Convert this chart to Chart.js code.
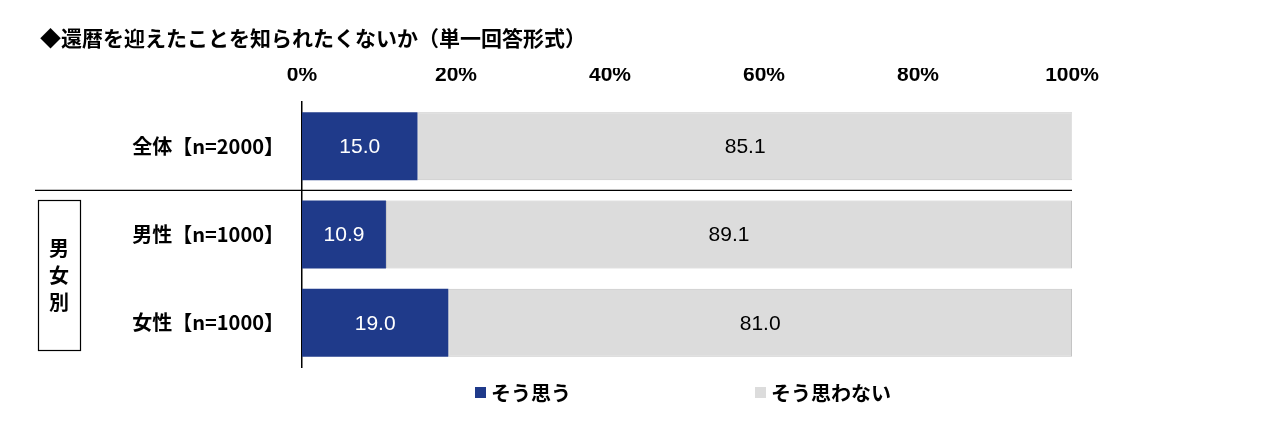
<!DOCTYPE html>
<html><head><meta charset="utf-8">
<script src="https://cdn.jsdelivr.net/npm/chart.js@4"></script>
<style>html,body{margin:0;padding:0;background:#fff}canvas{display:block}</style>
</head><body>
<div style="width:1266px;height:425px"><canvas id="c"></canvas></div>
<script>
const categories = ['全体【n=2000】','男性【n=1000】','女性【n=1000】'];
const seriesNames = ['そう思う','そう思わない'];
const yesValues = [15.0, 10.9, 19.0];
const noValues = [85.1, 89.1, 81.0];
const colors = ['#1F3A8A','#DCDCDC'];
const FONT = '"Noto Sans CJK JP", "Noto Sans", sans-serif';
const NUMFONT = '"Liberation Sans", Arial, sans-serif';

const deco = {
  id:'deco',
  afterDraw(chart){
    const ctx = chart.ctx, y = chart.scales.y, a = chart.chartArea;
    ctx.save();
    ctx.fillStyle='#000';
    ctx.font='bold 21px '+FONT;
    ctx.textBaseline='middle';
    ctx.textAlign='left';
    ctx.fillText('◆還暦を迎えたことを知られたくないか（単一回答形式）', 40, 38);
    ctx.font='bold 20px '+FONT;
    ctx.textAlign='right';
    categories.forEach((c,i)=>ctx.fillText(c, 284, y.getPixelForValue(i)));
    const sep = (y.getPixelForValue(0)+y.getPixelForValue(1))/2;
    ctx.strokeStyle='#000'; ctx.lineWidth=1.2;
    ctx.beginPath(); ctx.moveTo(35,sep); ctx.lineTo(a.right,sep); ctx.stroke();
    ctx.strokeRect(38.5,200.5,42,150);
    ctx.textAlign='center';
    ['男','女','別'].forEach((t,i)=>ctx.fillText(t,59,248+i*27));
    ctx.font='21px '+NUMFONT;
    chart.data.datasets.forEach((ds,di)=>{
      chart.getDatasetMeta(di).data.forEach((bar,i)=>{
        ctx.fillStyle = di===0 ? '#fff' : '#000';
        ctx.fillText(ds.data[i].toFixed(1), (bar.x+bar.base)/2, bar.y+1);
      });
    });
    ctx.font='bold 20px '+FONT;
    ctx.textAlign='left';
    const lx=[475,755];
    seriesNames.forEach((n,i)=>{
      ctx.fillStyle=colors[i]; ctx.fillRect(lx[i],387,11,11);
      ctx.fillStyle='#000'; ctx.fillText(n,lx[i]+16,393);
    });
    ctx.restore();
  }
};

new Chart(document.getElementById('c'),{
  type:'bar',
  data:{labels:categories,datasets:[
    {label:seriesNames[0],data:yesValues,backgroundColor:colors[0],categoryPercentage:1,barPercentage:0.77},
    {label:seriesNames[1],data:noValues,backgroundColor:colors[1],borderColor:'#c4c4c4',borderWidth:1,borderSkipped:false,categoryPercentage:1,barPercentage:0.77}
  ]},
  options:{
    indexAxis:'y',responsive:true,maintainAspectRatio:false,animation:false,
    layout:{padding:{left:302,right:194,top:68,bottom:58}},
    plugins:{legend:{display:false},tooltip:{enabled:false}},
    scales:{
      x:{stacked:true,position:'top',min:0,max:100,
        ticks:{stepSize:20,callback:v=>v+'%',color:'#000',font:{family:NUMFONT,size:21,weight:'bold'},padding:6},
        grid:{display:false},border:{display:false},
        afterFit:s=>{s.height=34;}},
      y:{stacked:true,ticks:{display:false},grid:{display:false},
        border:{display:true,color:'#000',width:1.5},
        afterFit:s=>{s.width=0;}}
    }
  },
  plugins:[deco]
});
</script>
</body></html>
